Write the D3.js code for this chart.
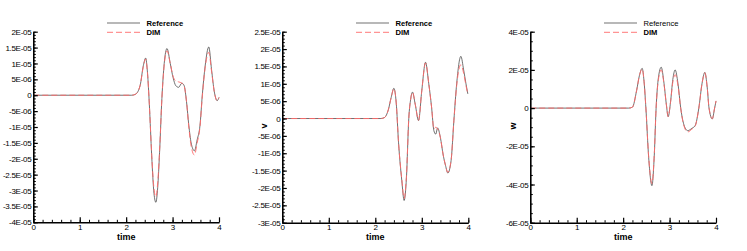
<!DOCTYPE html>
<html>
<head>
<meta charset="utf-8">
<script src="https://cdn.jsdelivr.net/npm/d3@7"></script>
<style>
body { margin: 0; background: #fff; }
svg text { font-family: "Liberation Sans", Arial, sans-serif; }
</style>
</head>
<body>
<div id="chart"></div>
<script>
// values are in units of 1E-05
var uTime = [0, 2.12, 2.2, 2.3, 2.37, 2.42, 2.46, 2.5, 2.55, 2.6, 2.64, 2.68, 2.72, 2.77, 2.82, 2.88, 2.95, 3.01, 3.07, 3.13, 3.2, 3.25, 3.3, 3.35, 3.4, 3.47, 3.53, 3.59, 3.64, 3.7, 3.78, 3.84, 3.9, 3.96, 4.0];
var uRef  = [0, 0, 0.03, 0.3, 0.93, 1.17, 0.7, -0.3, -1.9, -3.1, -3.37, -2.9, -1.8, -0.1, 1.0, 1.47, 1.0, 0.56, 0.3, 0.25, 0.38, 0.3, -0.2, -0.95, -1.5, -1.75, -1.4, -0.96, 0.0, 0.9, 1.52, 0.8, 0.1, -0.17, -0.07];
var uDim  = [0, 0, 0.03, 0.3, 0.9, 1.14, 0.7, -0.3, -1.85, -2.95, -3.2, -2.75, -1.75, -0.1, 0.95, 1.4, 1.0, 0.6, 0.45, 0.42, 0.38, 0.28, -0.2, -1.0, -1.6, -1.88, -1.5, -1.0, -0.05, 0.85, 1.35, 0.75, 0.1, -0.17, -0.07];

var vTime = [0, 2.12, 2.2, 2.28, 2.34, 2.4, 2.45, 2.5, 2.57, 2.62, 2.67, 2.72, 2.76, 2.8, 2.86, 2.93, 3.0, 3.08, 3.15, 3.21, 3.26, 3.3, 3.34, 3.4, 3.46, 3.51, 3.56, 3.63, 3.69, 3.75, 3.84, 3.9, 3.95, 3.99];
var vRef  = [0, 0, 0.03, 0.25, 0.6, 0.87, 0.45, -0.7, -1.79, -2.36, -1.7, 0.0, 0.55, 0.76, 0.4, -0.06, 0.81, 1.62, 1.0, 0.33, -0.35, -0.45, -0.27, -0.55, -1.05, -1.35, -1.57, -1.21, -0.06, 1.0, 1.79, 1.4, 1.0, 0.71];
var vDim  = [0, 0, 0.03, 0.25, 0.6, 0.86, 0.45, -0.7, -1.75, -2.3, -1.65, 0.0, 0.55, 0.75, 0.4, -0.05, 0.8, 1.6, 1.0, 0.33, -0.3, -0.25, -0.3, -0.55, -1.05, -1.35, -1.55, -1.2, -0.06, 0.95, 1.55, 1.3, 0.95, 0.7];

var wTime = [0, 2.12, 2.2, 2.29, 2.35, 2.41, 2.45, 2.49, 2.55, 2.62, 2.67, 2.71, 2.76, 2.82, 2.88, 2.93, 2.97, 3.02, 3.07, 3.12, 3.18, 3.24, 3.3, 3.39, 3.48, 3.55, 3.63, 3.7, 3.76, 3.81, 3.85, 3.92, 3.97, 4.0];
var wRef  = [0, 0, 0.05, 0.92, 1.7, 2.08, 1.4, 0.0, -2.6, -4.06, -2.5, 0.0, 1.6, 2.14, 1.3, 0.2, -0.45, 0.3, 1.5, 2.0, 1.3, 0.0, -0.8, -1.18, -1.06, -0.92, 0.0, 1.3, 1.87, 1.1, 0.0, -0.57, 0.0, 0.36];
var wDim  = [0, 0, 0.05, 0.92, 1.7, 2.05, 1.4, 0.0, -2.55, -3.95, -2.45, 0.0, 1.5, 2.0, 1.25, 0.2, -0.45, 0.3, 1.35, 1.75, 1.2, 0.0, -0.85, -1.25, -1.1, -0.95, 0.0, 1.3, 1.85, 1.1, 0.0, -0.55, 0.0, 0.38];

var xTicks = [0, 1, 2, 3, 4];
var uTicks = [2, 1.5, 1, 0.5, 0, -0.5, -1, -1.5, -2, -2.5, -3, -3.5, -4];
var uTickLabels = ["2E-05", "1.5E-05", "1E-05", "5E-06", "0", "-5E-06", "-1E-05", "-1.5E-05", "-2E-05", "-2.5E-05", "-3E-05", "-3.5E-05", "-4E-05"];
var vTicks = [2.5, 2, 1.5, 1, 0.5, 0, -0.5, -1, -1.5, -2, -2.5, -3];
var vTickLabels = ["2.5E-05", "2E-05", "1.5E-05", "1E-05", "5E-06", "0", "-5E-06", "-1E-05", "-1.5E-05", "-2E-05", "-2.5E-05", "-3E-05"];
var wTicks = [4, 2, 0, -2, -4, -6];
var wTickLabels = ["4E-05", "2E-05", "0", "-2E-05", "-4E-05", "-6E-05"];
var seriesNames = ["Reference", "DIM"];

var svg = d3.select("#chart").append("svg")
    .attr("width", 747)
    .attr("height", 251);

var dimColor = "#ff6a6a";

function drawPanel(p) {
    var x = d3.scaleLinear().domain([0, 4]).range([p.x0, p.x1]);
    var y = d3.scaleLinear().domain(p.yDomain).range([p.y1, p.y0]);
    var g = svg.append("g");

    // curves
    var line = d3.line()
        .x(function (d) { return x(d[0]); })
        .y(function (d) { return y(d[1]); })
        .curve(d3.curveMonotoneX);
    var refData = p.time.map(function (t, i) { return [t, p.ref[i]]; });
    var dimData = p.time.map(function (t, i) { return [t, p.dim[i]]; });
    g.append("path").datum(refData)
        .attr("d", line).attr("fill", "none")
        .attr("stroke", "#333").attr("stroke-width", 0.7);
    g.append("path").datum(dimData)
        .attr("d", line).attr("fill", "none")
        .attr("stroke", dimColor).attr("stroke-width", 0.9)
        .attr("stroke-dasharray", "6,3");

    // x axis (ticks inward)
    var xMinor = d3.range(0, 4.0001, 0.2);
    g.append("g")
        .attr("transform", "translate(0," + p.y1 + ")")
        .call(d3.axisTop(x).tickValues(xMinor).tickSize(2.5).tickFormat(""))
        .call(function (s) { s.select(".domain").remove(); });
    var xa = g.append("g")
        .attr("transform", "translate(0," + p.y1 + ")")
        .call(d3.axisTop(x).tickValues(xTicks).tickSize(5).tickSizeOuter(0).tickFormat(d3.format("d")));
    xa.select(".domain").attr("stroke-width", 1.6);
    xa.selectAll("text").attr("y", 1.6).attr("dy", "0.71em")
        .attr("font-size", 8).attr("fill", "#000");
    xa.selectAll("line").attr("stroke-width", 1.2);

    // y axis
    var yMinor = d3.range(p.yDomain[0], p.yDomain[1] + 0.0001, p.minorStep);
    g.append("g")
        .attr("transform", "translate(" + p.x0 + ",0)")
        .call(d3.axisRight(y).tickValues(yMinor).tickSize(2.5).tickFormat(""))
        .call(function (s) { s.select(".domain").remove(); });
    var ya = g.append("g")
        .attr("transform", "translate(" + p.x0 + ",0)")
        .call(d3.axisRight(y).tickValues(p.ticks).tickSize(4.5).tickSizeOuter(0)
            .tickFormat(function (d, i) { return p.labels[i]; }));
    ya.select(".domain").attr("stroke-width", 1.6);
    ya.selectAll("line").attr("stroke-width", 1.2);
    ya.selectAll("text").attr("x", -2).attr("text-anchor", "end")
        .attr("font-size", 8).attr("letter-spacing", -0.3).attr("fill", "#000");

    g.append("text")
        .attr("x", (p.x0 + p.x1) / 2).attr("y", 239.5)
        .attr("text-anchor", "middle").attr("font-size", 9).attr("font-weight", "bold")
        .text("time");
    if (p.yTitle) {
        g.append("text")
            .attr("transform", "translate(" + p.yTitleX + ",126) rotate(-90)")
            .attr("text-anchor", "middle").attr("font-size", 9).attr("font-weight", "bold")
            .text(p.yTitle);
    }

    // legend
    var leg = g.append("g").attr("transform", "translate(" + p.legX + ",23)");
    seriesNames.forEach(function (name, i) {
        leg.append("line")
            .attr("x1", 0).attr("x2", 33)
            .attr("y1", i * 9.3).attr("y2", i * 9.3)
            .attr("stroke", i === 0 ? "#333" : dimColor)
            .attr("stroke-width", i === 0 ? 0.7 : 0.9)
            .attr("stroke-dasharray", i === 0 ? null : "6,3");
        leg.append("text")
            .attr("x", 39.5).attr("y", i * 9.3 + 2.8)
            .attr("font-size", 7.6)
            .attr("font-weight", (i === 0 && p.legLight) ? "normal" : "bold")
            .text(name);
    });
}

drawPanel({ x0: 33.3, x1: 219, y0: 31.7, y1: 222.3, yDomain: [-4, 2], minorStep: 0.1,
    ticks: uTicks, labels: uTickLabels, time: uTime, ref: uRef, dim: uDim, legX: 107 });
drawPanel({ x0: 282.3, x1: 468.3, y0: 31.7, y1: 222.7, yDomain: [-3, 2.5], minorStep: 0.1,
    ticks: vTicks, labels: vTickLabels, time: vTime, ref: vRef, dim: vDim, legX: 356,
    yTitle: "v", yTitleX: 267 });
drawPanel({ x0: 530.3, x1: 716, y0: 31.7, y1: 222.7, yDomain: [-6, 4], minorStep: 0.5,
    ticks: wTicks, labels: wTickLabels, time: wTime, ref: wRef, dim: wDim, legX: 604,
    yTitle: "w", yTitleX: 515.5, legLight: true });
</script>
</body>
</html>
